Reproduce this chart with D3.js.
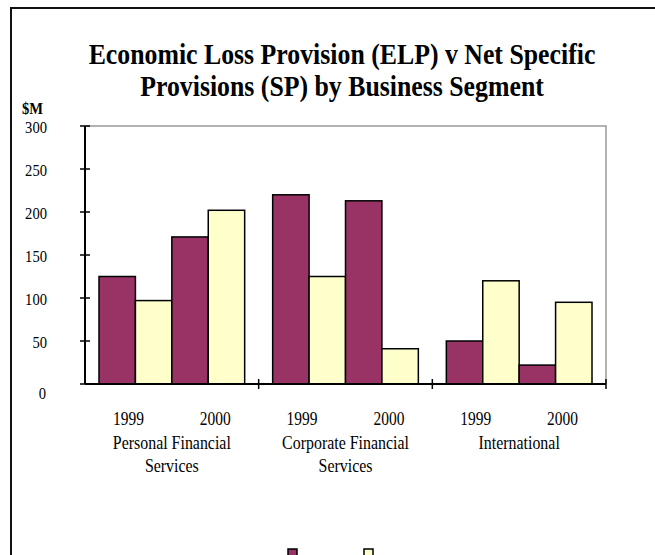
<!DOCTYPE html>
<html>
<head>
<meta charset="utf-8">
<script src="https://cdn.jsdelivr.net/npm/d3@7"></script>
<style>
  html, body { margin: 0; padding: 0; background: #fff; }
  svg { display: block; font-family: "Liberation Serif", "Times New Roman", serif; }
</style>
</head>
<body>
<svg id="chart" width="655" height="555"></svg>
<script>
// Business segments (outer category), years (inner category), series
const segments = ["Personal Financial Services", "Corporate Financial Services", "International"];
const segmentLines = [["Personal Financial", "Services"], ["Corporate Financial", "Services"], ["International"]];
const years = ["1999", "2000"];
const seriesNames = ["ELP", "SP"];
const seriesColors = ["#993366", "#FFFFCC"];

// $M values, per segment: [1999, 2000]
const elpValues = [[125, 171], [220, 213], [50, 22]];
const spValues  = [[97, 202], [125, 41], [120, 95]];

const yTicks = [0, 50, 100, 150, 200, 250, 300];

const titleLines = ["Economic Loss Provision (ELP) v Net Specific", "Provisions (SP) by Business Segment"];

// text in this chart uses a narrow, tall serif face
const SX = 0.86;

const svg = d3.select("#chart");

function label(parent, x, y, txt, opts = {}) {
  return parent.append("text")
    .attr("transform", `translate(${x},${y}) scale(${SX},1)`)
    .attr("text-anchor", opts.anchor || "middle")
    .attr("font-size", opts.size || 18)
    .attr("font-weight", opts.weight || "normal")
    .attr("dy", opts.dy || null)
    .attr("fill", "#000")
    .text(txt);
}

// outer frame
svg.append("rect")
  .attr("x", 11).attr("y", 8)
  .attr("width", 700).attr("height", 600)
  .attr("fill", "none")
  .attr("stroke", "#111")
  .attr("stroke-width", 2);

// title
titleLines.forEach((t, i) => label(svg, 342, 64 + i * 32, t, { size: 30, weight: "bold" }));

label(svg, 22, 114, "$M", { size: 17, weight: "bold", anchor: "start" });

const plot = { left: 85, right: 606, top: 126, bottom: 384 };

const y = d3.scaleLinear().domain([0, 300]).range([plot.bottom, plot.top]);
const xSeg = d3.scaleBand().domain(segments).range([plot.left, plot.right]).padding(0);
const segW = xSeg.bandwidth();
const pad = 14;
// four bar slots per segment: year x series
const slots = [];
years.forEach((yr, yi) => seriesNames.forEach((s, si) => slots.push(yi + "-" + si)));
const xSlot = d3.scaleBand().domain(slots).range([pad, segW - pad]).padding(0);
const xYear = d3.scaleBand().domain(years).range([0, segW]).padding(0);

// plot area border (top and right, gray)
svg.append("path")
  .attr("d", `M${plot.left},${plot.top}H${plot.right}V${plot.bottom}`)
  .attr("fill", "none")
  .attr("stroke", "#999")
  .attr("stroke-width", 1.5);

// bars
const barData = [];
segments.forEach((seg, gi) => {
  years.forEach((yr, yi) => {
    [elpValues, spValues].forEach((vals, si) => {
      barData.push({ seg, yi, si, value: vals[gi][yi] });
    });
  });
});

svg.append("g")
  .selectAll("rect")
  .data(barData)
  .join("rect")
  .attr("x", d => xSeg(d.seg) + xSlot(d.yi + "-" + d.si))
  .attr("y", d => y(d.value))
  .attr("width", xSlot.bandwidth())
  .attr("height", d => y(0) - y(d.value))
  .attr("fill", d => seriesColors[d.si])
  .attr("stroke", "#000")
  .attr("stroke-width", 1.5);

// y axis
const yAxis = svg.append("g").attr("transform", `translate(${plot.left},0)`);
yAxis.append("line")
  .attr("y1", plot.top).attr("y2", plot.bottom)
  .attr("stroke", "#000").attr("stroke-width", 2);
yAxis.selectAll("line.tick")
  .data(yTicks)
  .join("line")
  .attr("class", "tick")
  .attr("x1", -5).attr("x2", 5)
  .attr("y1", d => y(d)).attr("y2", d => y(d))
  .attr("stroke", "#000").attr("stroke-width", 1.5);
// the zero label sits a little lower, clear of the category axis
yTicks.forEach(t => label(yAxis, t === 0 ? -39 : -38, y(t) + (t === 0 ? 9 : 1.5), t, { size: 17, anchor: "end", dy: "0.35em" }));

// x axis
const xAxis = svg.append("g");
xAxis.append("line")
  .attr("x1", plot.left).attr("x2", plot.right)
  .attr("y1", plot.bottom).attr("y2", plot.bottom)
  .attr("stroke", "#000").attr("stroke-width", 2);
const segEdges = segments.map(s => xSeg(s) + segW);
xAxis.selectAll("line.tick")
  .data(segEdges)
  .join("line")
  .attr("class", "tick")
  .attr("x1", d => d).attr("x2", d => d)
  .attr("y1", plot.bottom - 5).attr("y2", plot.bottom + 5)
  .attr("stroke", "#000").attr("stroke-width", 1.5);

// year and segment labels
segments.forEach((seg, i) => {
  years.forEach(yr => label(xAxis, xSeg(seg) + xYear(yr) + xYear.bandwidth() / 2, 425, yr, { size: 18 }));
  segmentLines[i].forEach((t, j) => label(xAxis, xSeg(seg) + segW / 2, 449 + j * 23, t, { size: 18.5 }));
});

// legend swatches
const legendX = [288, 364];
svg.append("g")
  .selectAll("rect")
  .data(seriesNames)
  .join("rect")
  .attr("x", (d, i) => legendX[i])
  .attr("y", 549)
  .attr("width", 9)
  .attr("height", 12)
  .attr("fill", (d, i) => seriesColors[i])
  .attr("stroke", "#000")
  .attr("stroke-width", 1.5);
</script>
</body>
</html>
